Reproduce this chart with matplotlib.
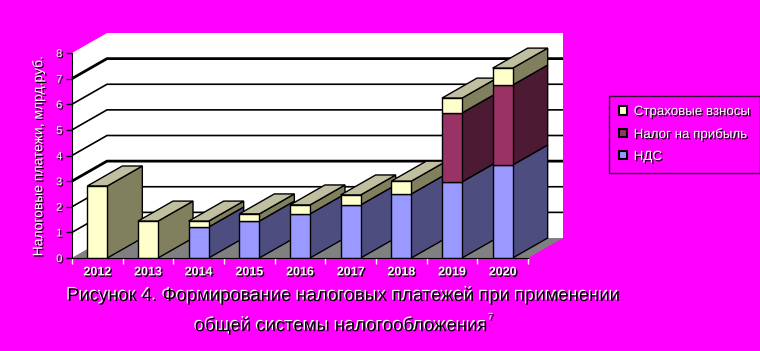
import matplotlib
matplotlib.use('Agg')
import matplotlib.pyplot as plt
from matplotlib.patches import Polygon
import matplotlib.patheffects as pe

# ---------------- data ----------------
years = ['2012', '2013', '2014', '2015', '2016', '2017', '2018', '2019', '2020']
nds = [0.0, 0.0, 1.21, 1.44, 1.72, 2.07, 2.50, 2.97, 3.63]
profit = [0.0, 0.0, 0.0, 0.0, 0.0, 0.0, 0.0, 2.69, 3.12]
insurance = [2.81, 1.44, 0.23, 0.28, 0.35, 0.39, 0.50, 0.58, 0.66]
series_names = ['НДС', 'Налог на прибыль', 'Страховые взносы']
y_ticks = [0, 1, 2, 3, 4, 5, 6, 7, 8]
y_label = 'Налоговые платежи, млрд.руб.'
caption1 = 'Рисунок 4. Формирование налоговых платежей при применении'
caption2 = 'общей системы налогообложения'
footnote = '7'

# ---------------- style ----------------
MAGENTA = '#FF00FF'
front_cols = ['#9999FF', '#993366', '#FFFFCC']
side_cols = ['#4D4D80', '#4D1A33', '#80805F']
top_col = '#C0C0A0'
FONT = 'Liberation Sans'

W, H = 760, 351
fig = plt.figure(figsize=(W / 100, H / 100), dpi=100)
fig.patch.set_facecolor(MAGENTA)

ax_left, ax_right, ax_bottom, ax_top = 72, 528, 258, 53
ax = fig.add_axes([ax_left / W, 1 - ax_bottom / H, (ax_right - ax_left) / W, (ax_bottom - ax_top) / H])
ax.set_facecolor('none')
n = len(years)
ax.set_xlim(-0.5, n - 0.5)
ax.set_ylim(y_ticks[0], y_ticks[-1])

# depth offset (pixels -> data units)
px_per_x = (ax_right - ax_left) / n
px_per_y = (ax_bottom - ax_top) / (y_ticks[-1] - y_ticks[0])
dx = 35 / px_per_x
dy = 20 / px_per_y
x0, x1 = -0.5, n - 0.5
ymax = y_ticks[-1]

# walls & floor
ax.add_patch(Polygon([(x0 + dx, dy), (x1 + dx, dy), (x1 + dx, ymax + dy), (x0 + dx, ymax + dy)],
                     closed=True, facecolor='white', edgecolor='none', zorder=0, clip_on=False))
ax.add_patch(Polygon([(x0, 0), (x0 + dx, dy), (x0 + dx, ymax + dy), (x0, ymax)],
                     closed=True, facecolor='white', edgecolor='none', zorder=0, clip_on=False))
ax.add_patch(Polygon([(x0, 0), (x1, 0), (x1 + dx, dy), (x0 + dx, dy)],
                     closed=True, facecolor='#808080', edgecolor='none', zorder=0.5, clip_on=False))
for k in y_ticks[1:-1]:
    lw = 2.0 if k in (3, 7) else 1.2
    ax.plot([x0, x0 + dx, x1 + dx], [k, k + dy, k + dy], color='black', lw=lw,
            zorder=0.6, clip_on=False, solid_capstyle='butt')

# bars
bw = 20 / px_per_x
stack = [nds, profit, insurance]
for i in range(n):
    z = 3 + i * 0.1
    bottom = 0.0
    for s, vals in enumerate(stack):
        v = vals[i]
        if v <= 0:
            continue
        ax.bar(i, v, bw, bottom=bottom, color=front_cols[s], edgecolor='black',
               linewidth=1.0, zorder=z + 0.02)
        xr = i + bw / 2
        ax.add_patch(Polygon([(xr, bottom), (xr + dx, bottom + dy), (xr + dx, bottom + v + dy), (xr, bottom + v)],
                             closed=True, facecolor=side_cols[s], edgecolor='black', lw=1.0,
                             zorder=z, clip_on=False))
        bottom += v
    xl = i - bw / 2
    xr = i + bw / 2
    ax.add_patch(Polygon([(xl, bottom), (xr, bottom), (xr + dx, bottom + dy), (xl + dx, bottom + dy)],
                         closed=True, facecolor=top_col, edgecolor='black', lw=1.0,
                         zorder=z + 0.01, clip_on=False))

# axes styling
shadow_w = [pe.withSimplePatchShadow(offset=(1, -1), shadow_rgbFace='black', alpha=1.0)]
for sp in ['top', 'right']:
    ax.spines[sp].set_visible(False)
ax.spines['left'].set_color('black')
ax.spines['bottom'].set_color('black')
ax.spines['left'].set_zorder(10)
ax.spines['bottom'].set_zorder(10)
ax.set_yticks(y_ticks)
ax.set_yticklabels([str(t) for t in y_ticks], fontfamily=FONT, fontsize=8, color='white')
ax.tick_params(axis='y', direction='out', length=4, width=1, color='black', pad=3)
ax.set_xticks(range(n))
ax.set_xticklabels(years, fontfamily=FONT, fontsize=9, fontweight='bold', color='white')
ax.set_xticks([k - 0.5 for k in range(n + 1)], minor=True)
ax.tick_params(axis='x', which='major', length=0, pad=6)
ax.tick_params(axis='x', which='minor', length=4, width=1, color='white', direction='out')
for t in ax.get_yticklabels() + ax.get_xticklabels():
    t.set_path_effects(shadow_w)

fig.text(38 / W, 1 - 156 / H, y_label, rotation=90, ha='center', va='center',
         fontfamily=FONT, fontsize=10, color='white', path_effects=shadow_w)

# legend
handles = []
for s in [2, 1, 0]:
    handles.append(plt.Rectangle((0, 0), 1, 1, facecolor=front_cols[s], edgecolor='black', lw=1.5))
labels = [series_names[2], series_names[1], series_names[0]]
leg = fig.legend(handles, labels, loc='upper left',
                 bbox_to_anchor=(609 / W, 1 - 96 / H), bbox_transform=fig.transFigure,
                 prop={'family': FONT, 'size': 9.6}, frameon=True, fancybox=False,
                 handlelength=0.6, handleheight=0.6, handletextpad=0.5,
                 labelspacing=0.75, borderpad=0.75, borderaxespad=0)
leg.get_frame().set_facecolor(MAGENTA)
leg.get_frame().set_edgecolor('black')
leg.get_frame().set_linewidth(1.0)
for t in leg.get_texts():
    t.set_color('white')
    t.set_path_effects(shadow_w)

# caption
shadow_b = [pe.withSimplePatchShadow(offset=(-1, 1), shadow_rgbFace='white', alpha=1.0)]
fig.text(343 / W, 1 - 296 / H, caption1, ha='center', va='center', fontfamily=FONT,
         fontsize=13.3, color='black', path_effects=shadow_b)
fig.text(341 / W, 1 - 326 / H, caption2, ha='center', va='center', fontfamily=FONT,
         fontsize=13.3, color='black', path_effects=shadow_b)
fig.text(489 / W, 1 - 318 / H, footnote, ha='left', va='center', fontfamily=FONT,
         fontsize=7, color='black', path_effects=shadow_b)

fig.savefig('out.png', dpi=100, facecolor=MAGENTA)
